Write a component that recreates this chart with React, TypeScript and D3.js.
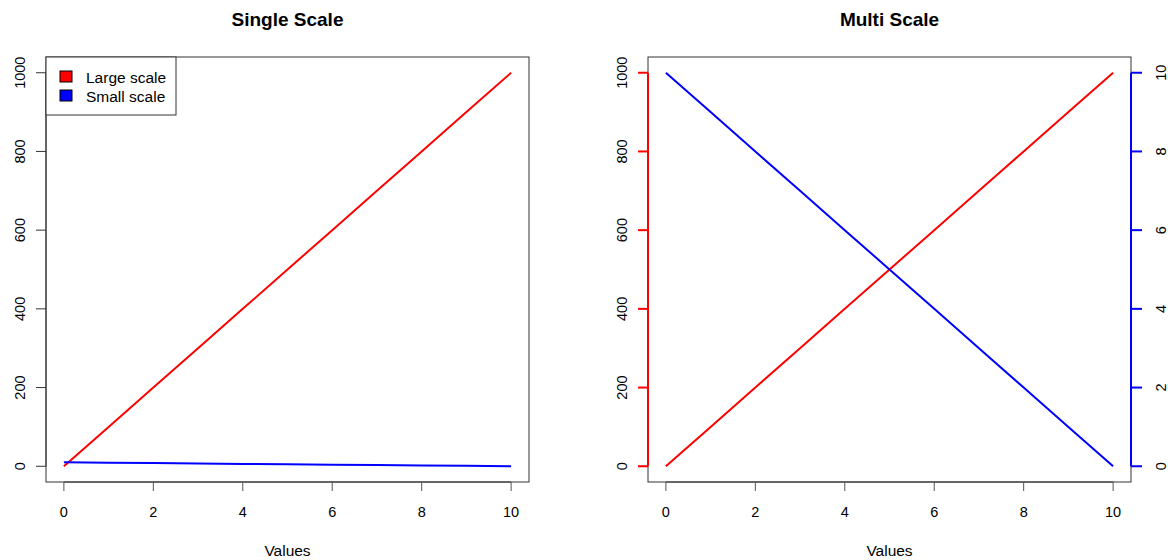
import React from "react";
import * as d3 from "d3";

const xValues = [0, 1, 2, 3, 4, 5, 6, 7, 8, 9, 10];
const largeScale = [0, 100, 200, 300, 400, 500, 600, 700, 800, 900, 1000];
const smallScale = [10, 9, 8, 7, 6, 5, 4, 3, 2, 1, 0];
const xTicks = [0, 2, 4, 6, 8, 10];
const yTicksLarge = [0, 200, 400, 600, 800, 1000];
const yTicksSmall = [0, 2, 4, 6, 8, 10];
const legendItems = [
  { label: "Large scale", color: "red" },
  { label: "Small scale", color: "blue" },
];

const W = 1168;
const H = 560;
const FONT = "Liberation Sans, Arial, sans-serif";
const plotTop = 57;
const plotBottom = 482;

function padded(domain: [number, number]): [number, number] {
  const d = (domain[1] - domain[0]) * 0.04;
  return [domain[0] - d, domain[1] + d];
}

function Panel({ left, right, title, multi }: { left: number; right: number; title: string; multi: boolean }) {
  const x = d3.scaleLinear().domain(padded([0, 10])).range([left, right]);
  const yL = d3.scaleLinear().domain(padded([0, 1000])).range([plotBottom, plotTop]);
  const yS = d3.scaleLinear().domain(padded([0, 10])).range([plotBottom, plotTop]);
  const ySmall = multi ? yS : yL;
  const lineL = d3.line<number>().x((_, i) => x(xValues[i])).y((d) => yL(d));
  const lineS = d3.line<number>().x((_, i) => x(xValues[i])).y((d) => ySmall(d));
  const leftAxisColor = multi ? "red" : "#333";
  const leftAxisW = multi ? 2 : 1;
  return (
    <g>
      <text x={(left + right) / 2} y={25.5} textAnchor="middle" fontFamily={FONT} fontSize={19} fontWeight="bold">
        {title}
      </text>
      <rect x={left} y={plotTop} width={right - left} height={plotBottom - plotTop} fill="none" stroke="#333" strokeWidth={1} />
      {/* x axis */}
      <line x1={x(xTicks[0])} x2={x(xTicks[xTicks.length - 1])} y1={plotBottom} y2={plotBottom} stroke="#333" />
      {xTicks.map((t) => (
        <g key={"x" + t}>
          <line x1={x(t)} x2={x(t)} y1={plotBottom} y2={plotBottom + 9} stroke="#555" />
          <text x={x(t)} y={517} textAnchor="middle" fontFamily={FONT} fontSize={14.5}>
            {t}
          </text>
        </g>
      ))}
      <text x={(left + right) / 2} y={556} textAnchor="middle" fontFamily={FONT} fontSize={15.5}>
        Values
      </text>
      {/* left y axis */}
      <line x1={left} x2={left} y1={yL(0)} y2={yL(1000)} stroke={leftAxisColor} strokeWidth={leftAxisW} />
      {yTicksLarge.map((t) => (
        <g key={"yl" + t}>
          <line x1={left - 10} x2={left} y1={yL(t)} y2={yL(t)} stroke={leftAxisColor} strokeWidth={multi ? 2 : 1} />
          <text
            transform={`translate(${left - 21},${yL(t)}) rotate(-90)`}
            textAnchor="middle"
            fontFamily={FONT}
            fontSize={14.5}
          >
            {t}
          </text>
        </g>
      ))}
      {multi && (
        <g>
          <line x1={right} x2={right} y1={yS(0)} y2={yS(10)} stroke="blue" strokeWidth={2} />
          {yTicksSmall.map((t) => (
            <g key={"ys" + t}>
              <line x1={right} x2={right + 11} y1={yS(t)} y2={yS(t)} stroke="blue" strokeWidth={2} />
              <text
                transform={`translate(${right + 35},${yS(t)}) rotate(-90)`}
                textAnchor="middle"
                fontFamily={FONT}
                fontSize={14.5}
              >
                {t}
              </text>
            </g>
          ))}
        </g>
      )}
      <path d={lineL(largeScale) || ""} fill="none" stroke="red" strokeWidth={2} />
      <path d={lineS(smallScale) || ""} fill="none" stroke="blue" strokeWidth={2} />
      {!multi && (
        <g>
          <rect x={left} y={plotTop} width={176 - left} height={115 - plotTop} fill="white" stroke="#333" />
          {legendItems.map((it, i) => (
            <g key={it.label}>
              <rect x={60} y={71 + i * 19} width={12} height={11} fill={it.color} stroke="black" />
              <text x={86} y={82.5 + i * 19} fontFamily={FONT} fontSize={15.5}>
                {it.label}
              </text>
            </g>
          ))}
        </g>
      )}
    </g>
  );
}

export default function App() {
  return (
    <svg width={W} height={H} style={{ position: "absolute", left: 0, top: 0, background: "white" }}>
      <rect width={W} height={H} fill="white" />
      <Panel left={46} right={529} title="Single Scale" multi={false} />
      <Panel left={648} right={1131} title="Multi Scale" multi={true} />
    </svg>
  );
}
